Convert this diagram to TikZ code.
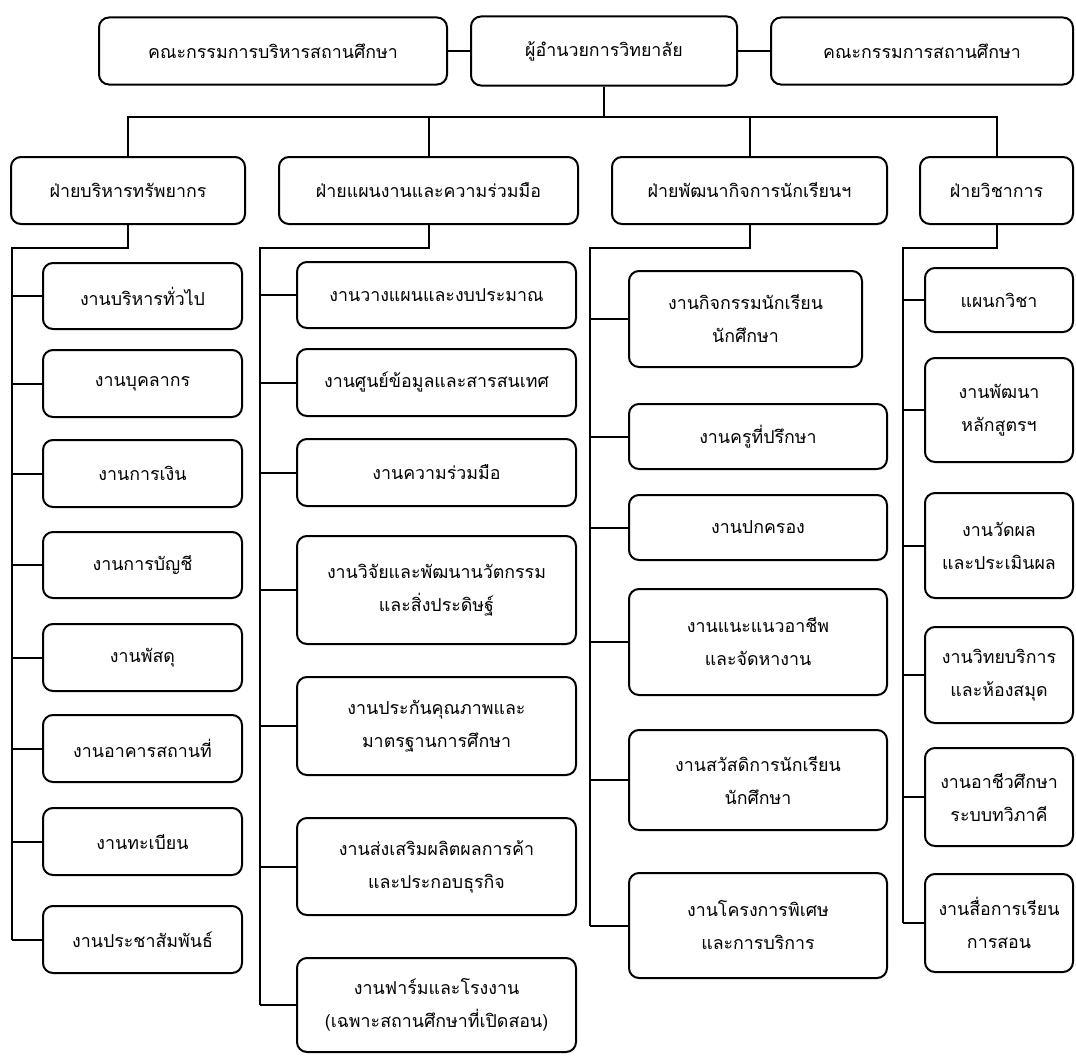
\documentclass[tikz,border=0pt]{standalone}
\usepackage{fontspec}
\newfontfamily\thaifont[Script=Thai]{Loma}
\usepackage{tikz}
\usetikzlibrary{positioning, calc}
\tikzset{unitbox/.style={
        draw, rounded corners=10pt, fill=white, inner sep=0pt, align=center,
        font=\thaifont\fontsize{17.8}{33}\selectfont
    }
}

\begin{document}
\begin{tikzpicture}[x=1pt, y=-1pt, line width=2pt]

\useasboundingbox (0,0) rectangle (1076,1057);

% top row
\node[unitbox, minimum width=348pt, minimum height=67pt] (top1) at (273,51) {คณะกรรมการบริหารสถานศึกษา};
\node[unitbox, minimum width=266pt, minimum height=69pt] (top2) at (604,51) {ผู้อำนวยการวิทยาลัย};
\node[unitbox, minimum width=302pt, minimum height=67pt] (top3) at (922,51) {คณะกรรมการสถานศึกษา};

% divisions
\node[unitbox, minimum width=234pt, minimum height=67pt] (div1) at (128,190.5) {ฝ่ายบริหารทรัพยากร};
\node[unitbox, minimum width=299pt, minimum height=67pt] (div2) at (428.5,190.5) {ฝ่ายแผนงานและความร่วมมือ};
\node[unitbox, minimum width=275pt, minimum height=67pt] (div3) at (749.5,190.5) {ฝ่ายพัฒนากิจการนักเรียนฯ};
\node[unitbox, minimum width=153pt, minimum height=67pt] (div4) at (996.5,190.5) {ฝ่ายวิชาการ};

% resources
\node[unitbox, minimum width=199pt, minimum height=66pt] (res1) at (142.5,296) {งานบริหารทั่วไป};
\node[unitbox, minimum width=199pt, minimum height=67pt] (res2) at (142.5,383.5) {งานบุคลากร};
\node[unitbox, minimum width=199pt, minimum height=67pt] (res3) at (142.5,473.5) {งานการเงิน};
\node[unitbox, minimum width=199pt, minimum height=66pt] (res4) at (142.5,565) {งานการบัญชี};
\node[unitbox, minimum width=199pt, minimum height=67pt] (res5) at (142.5,657.5) {งานพัสดุ};
\node[unitbox, minimum width=199pt, minimum height=67pt] (res6) at (142.5,748.5) {งานอาคารสถานที่};
\node[unitbox, minimum width=199pt, minimum height=67pt] (res7) at (142.5,841.5) {งานทะเบียน};
\node[unitbox, minimum width=199pt, minimum height=67pt] (res8) at (142.5,939.5) {งานประชาสัมพันธ์};

% planning
\node[unitbox, minimum width=279pt, minimum height=66pt] (plan1) at (436.5,295) {งานวางแผนและงบประมาณ};
\node[unitbox, minimum width=279pt, minimum height=67pt] (plan2) at (436.5,382.5) {งานศูนย์ข้อมูลและสารสนเทศ};
\node[unitbox, minimum width=279pt, minimum height=67pt] (plan3) at (436.5,472.5) {งานความร่วมมือ};
\node[unitbox, minimum width=279pt, minimum height=108pt] (plan4) at (436.5,590) {งานวิจัยและพัฒนานวัตกรรม\\และสิ่งประดิษฐ์};
\node[unitbox, minimum width=279pt, minimum height=98pt] (plan5) at (436.5,726) {งานประกันคุณภาพและ\\มาตรฐานการศึกษา};
\node[unitbox, minimum width=279pt, minimum height=97pt] (plan6) at (436.5,866.5) {งานส่งเสริมผลิตผลการค้า\\และประกอบธุรกิจ};
\node[unitbox, minimum width=279pt, minimum height=94pt] (plan7) at (436.5,1005) {งานฟาร์มและโรงงาน\\(เฉพาะสถานศึกษาที่เปิดสอน)};

% student affairs
\node[unitbox, minimum width=233pt, minimum height=96pt] (stu1) at (745.5,319) {งานกิจกรรมนักเรียน\\นักศึกษา};
\node[unitbox, minimum width=258pt, minimum height=65pt] (stu2) at (758,436.5) {งานครูที่ปรึกษา};
\node[unitbox, minimum width=258pt, minimum height=65pt] (stu3) at (758,527.5) {งานปกครอง};
\node[unitbox, minimum width=258pt, minimum height=106pt] (stu4) at (758,642) {งานแนะแนวอาชีพ\\และจัดหางาน};
\node[unitbox, minimum width=258pt, minimum height=100pt] (stu5) at (758,780) {งานสวัสดิการนักเรียน\\นักศึกษา};
\node[unitbox, minimum width=258pt, minimum height=105pt] (stu6) at (758,925.5) {งานโครงการพิเศษ\\และการบริการ};

% academic
\node[unitbox, minimum width=148pt, minimum height=64pt] (aca1) at (999,300) {แผนกวิชา};
\node[unitbox, minimum width=148pt, minimum height=104pt] (aca2) at (999,410) {งานพัฒนา\\หลักสูตรฯ};
\node[unitbox, minimum width=148pt, minimum height=105pt] (aca3) at (999,545.5) {งานวัดผล\\และประเมินผล};
\node[unitbox, minimum width=148pt, minimum height=96pt] (aca4) at (999,675) {งานวิทยบริการ\\และห้องสมุด};
\node[unitbox, minimum width=148pt, minimum height=98pt] (aca5) at (999,797) {งานอาชีวศึกษา\\ระบบทวิภาคี};
\node[unitbox, minimum width=148pt, minimum height=98pt] (aca6) at (999,923) {งานสื่อการเรียน\\การสอน};

\coordinate (bus) at (0,117);
\coordinate (col1) at (12,248);
\coordinate (col2) at (260,248);
\coordinate (col3) at (590,248);
\coordinate (col4) at (903,248);

\draw [] (top1.east) -- (top2.west);
\draw [] (top2.east) -- (top3.west);
\draw [] (top2.south) -- (top2.south |- bus);
\draw [] (div1.north) |- (div4.north |- bus) -- (div4.north);
\draw [] (div2.north) -- (div2.north |- bus);
\draw [] (div3.north) -- (div3.north |- bus);

\draw [] (div1.south) |- (col1) -- (col1 |- res8.west);
\draw [] (div2.south) |- (col2) -- (col2 |- plan7.west);
\draw [] (div3.south) |- (col3) -- (col3 |- stu6.west);
\draw [] (div4.south) |- (col4) -- (col4 |- aca6.west);

\draw [] (col1 |- res1.west) -- (res1.west) (col1 |- res2.west) -- (res2.west)
    (col1 |- res3.west) -- (res3.west) (col1 |- res4.west) -- (res4.west)
    (col1 |- res5.west) -- (res5.west) (col1 |- res6.west) -- (res6.west)
    (col1 |- res7.west) -- (res7.west) (col1 |- res8.west) -- (res8.west);
\draw [] (col2 |- plan1.west) -- (plan1.west) (col2 |- plan2.west) -- (plan2.west)
    (col2 |- plan3.west) -- (plan3.west) (col2 |- plan4.west) -- (plan4.west)
    (col2 |- plan5.west) -- (plan5.west) (col2 |- plan6.west) -- (plan6.west)
    (col2 |- plan7.west) -- (plan7.west);
\draw [] (col3 |- stu1.west) -- (stu1.west) (col3 |- stu2.west) -- (stu2.west)
    (col3 |- stu3.west) -- (stu3.west) (col3 |- stu4.west) -- (stu4.west)
    (col3 |- stu5.west) -- (stu5.west) (col3 |- stu6.west) -- (stu6.west);
\draw [] (col4 |- aca1.west) -- (aca1.west) (col4 |- aca2.west) -- (aca2.west)
    (col4 |- aca3.west) -- (aca3.west) (col4 |- aca4.west) -- (aca4.west)
    (col4 |- aca5.west) -- (aca5.west) (col4 |- aca6.west) -- (aca6.west);

\end{tikzpicture}
\end{document}
